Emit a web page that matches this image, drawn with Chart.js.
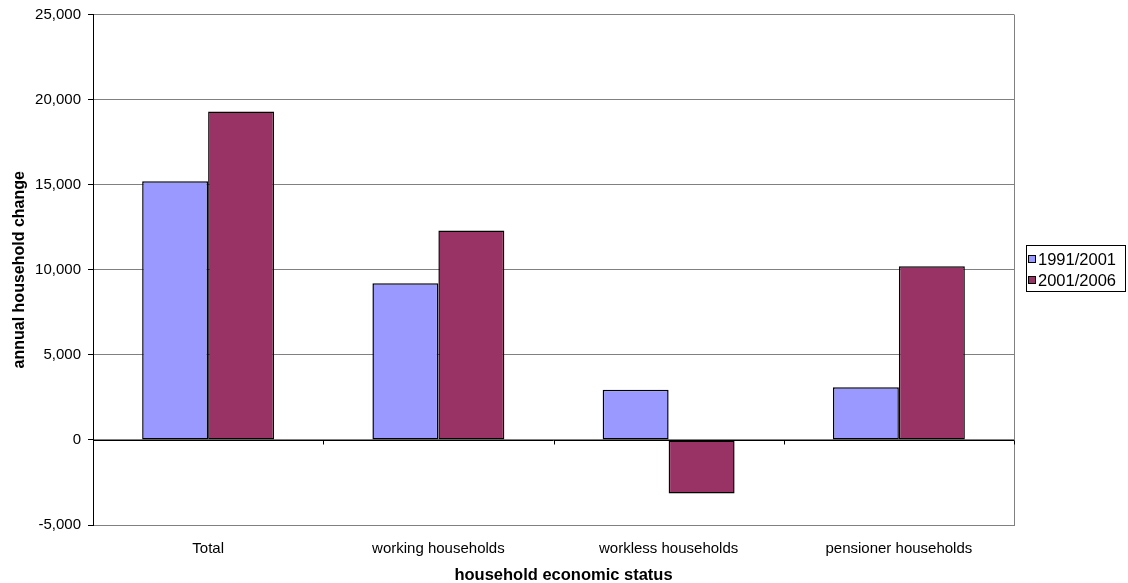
<!DOCTYPE html>
<html>
<head>
<meta charset="utf-8">
<script src="https://cdn.jsdelivr.net/npm/chart.js@4"></script>
<style>
  html, body { margin: 0; padding: 0; background: #fff; }
  #wrap { width: 1128px; height: 583px; position: relative; }
</style>
</head>
<body>
<div id="wrap"><canvas id="c" width="1128" height="583"></canvas></div>
<script>
// Household categories and annual change per period
const categories = ['Total', 'working households', 'workless households', 'pensioner households'];
const seriesNames = ['1991/2001', '2001/2006'];
const change1991to2001 = [15200, 9200, 2950, 3100];
const change2001to2006 = [19300, 12300, -3150, 10200];
const yTicks = [-5000, 0, 5000, 10000, 15000, 20000, 25000];
const xTitle = 'household economic status';

const FONT = 'Liberation Sans, Arial, Helvetica, sans-serif';
const colors = ['#9999FF', '#993366'];

// Frame, zero line with category tick marks, x title and a boxed legend
const decorations = {
  id: 'decorations',
  afterDatasetsDraw(chart) {
    const { ctx, chartArea: a, scales: { x, y } } = chart;
    ctx.save();
    // right border of the plot area
    ctx.strokeStyle = '#808080';
    ctx.lineWidth = 1;
    ctx.beginPath();
    ctx.moveTo(Math.round(a.right) + 0.5, a.top);
    ctx.lineTo(Math.round(a.right) + 0.5, a.bottom);
    ctx.stroke();
    // zero line with tick marks between categories
    const y0 = Math.round(y.getPixelForValue(0)) + 0.5;
    ctx.strokeStyle = '#000';
    const n = categories.length;
    for (let i = 0; i <= n; i++) {
      const px = Math.round(a.left + (a.right - a.left) * i / n) + 0.5;
      ctx.beginPath();
      ctx.moveTo(px, y0);
      ctx.lineTo(px, y0 + 4);
      ctx.stroke();
    }
    ctx.beginPath();
    ctx.moveTo(a.left, y0);
    ctx.lineTo(a.right, y0);
    ctx.stroke();

    // x axis title
    ctx.fillStyle = '#000';
    ctx.font = 'bold 16.5px ' + FONT;
    ctx.textAlign = 'center';
    ctx.textBaseline = 'middle';
    ctx.fillText(xTitle, (a.left + a.right) / 2 + 10, 575);

    // legend
    const lx = 1026.5, ly = 245.5, lw = 99, lh = 46;
    ctx.strokeStyle = '#000';
    ctx.fillStyle = '#fff';
    ctx.fillRect(lx, ly, lw, lh);
    ctx.strokeRect(lx, ly, lw, lh);
    ctx.font = '16.5px ' + FONT;
    ctx.textAlign = 'left';
    chart.data.datasets.forEach((ds, i) => {
      const cy = Math.round(ly + 13 + i * 21) + 0.5;
      ctx.fillStyle = ds.backgroundColor;
      ctx.fillRect(lx + 2, cy - 4, 7, 7);
      ctx.strokeStyle = '#000';
      ctx.strokeRect(lx + 2, cy - 4, 7, 7);
      ctx.fillStyle = '#000';
      ctx.fillText(ds.label, lx + 11.5, cy + 0.5);
    });
    ctx.restore();
  }
};

new Chart(document.getElementById('c'), {
  type: 'bar',
  data: {
    labels: categories,
    datasets: [
      { label: seriesNames[0], data: change1991to2001, backgroundColor: colors[0], borderColor: '#000', borderWidth: 1.5, borderSkipped: false },
      { label: seriesNames[1], data: change2001to2006, backgroundColor: colors[1], borderColor: '#000', borderWidth: 1.5, borderSkipped: false }
    ]
  },
  options: {
    responsive: false,
    animation: false,
    devicePixelRatio: 1,
    layout: { padding: { left: 0, right: 114, top: 14.5, bottom: 0 } },
    plugins: { legend: { display: false }, tooltip: { enabled: false } },
    datasets: { bar: { categoryPercentage: 0.573, barPercentage: 1 } },
    scales: {
      x: {
        grid: { display: false },
        border: { color: '#808080' },
        ticks: { color: '#000', font: { family: FONT, size: 15 }, padding: 7, maxRotation: 0 },
        afterFit(s) { s.height = 58; s.paddingLeft = 0; s.paddingRight = 0; }
      },
      y: {
        min: -5000, max: 25000,
        afterBuildTicks(s) { s.ticks = yTicks.map(v => ({ value: v })); },
        grid: { color: '#808080', tickColor: '#000', tickLength: 5 },
        border: { color: '#000' },
        ticks: {
          color: '#000', font: { family: FONT, size: 15 }, padding: 7,
          callback: v => v.toLocaleString('en-US')
        },
        title: { display: true, text: 'annual household change', color: '#000', font: { family: FONT, size: 16, weight: 'bold', lineHeight: 1 }, padding: { top: 12, bottom: 0 } },
        afterFit(s) { s.width = 93; s.paddingTop = 0; s.paddingBottom = 0; }
      }
    }
  },
  plugins: [decorations]
});
</script>
</body>
</html>
